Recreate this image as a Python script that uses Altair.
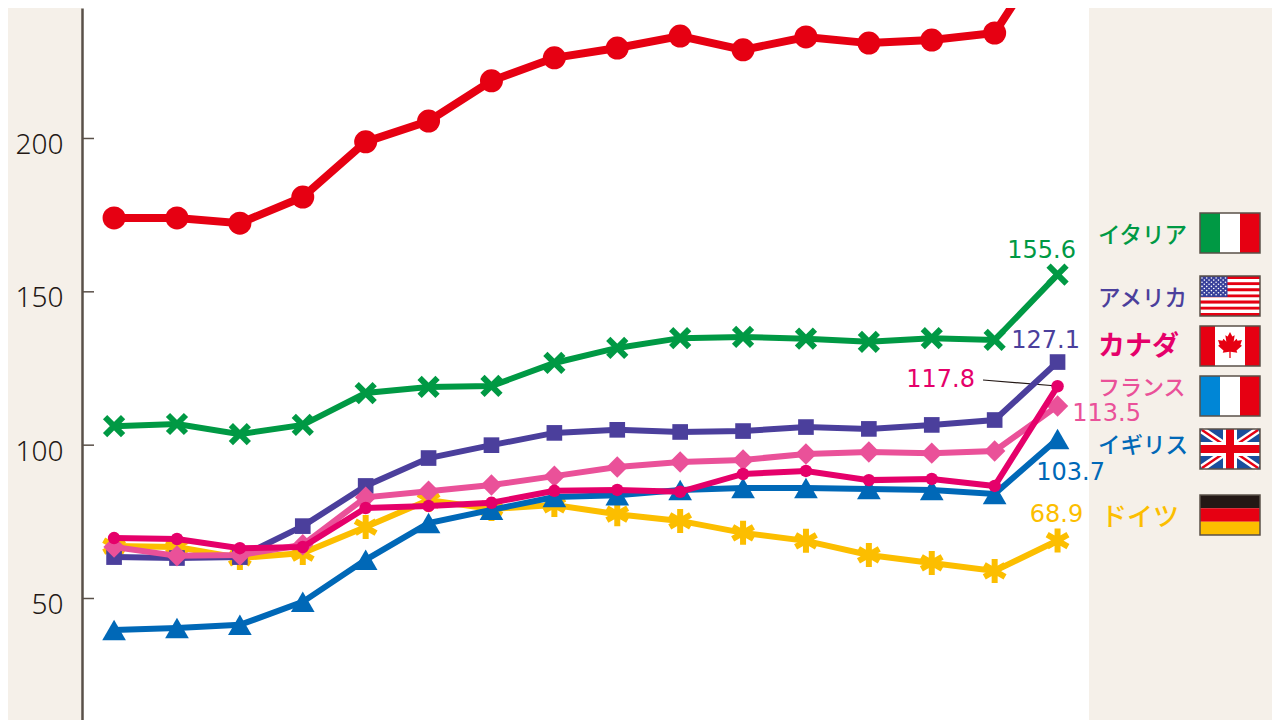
import altair as alt
import pandas as pd

years = list(range(2005, 2021))
japan = [174.1, 174.1, 172.4, 180.9, 198.9, 205.7, 218.8, 226.3, 229.5, 233.4, 228.9, 233.1, 231.1, 232.1, 234.4, 266.0]
italy = [106.2, 106.9, 103.6, 106.6, 117.0, 119.0, 119.3, 126.8, 131.7, 134.9, 135.3, 134.7, 133.7, 134.9, 134.3, 155.6]
usa = [63.5, 63.2, 63.5, 73.6, 86.7, 95.8, 100.0, 104.0, 105.0, 104.3, 104.6, 105.9, 105.3, 106.6, 108.2, 127.1]
canada = [69.7, 69.4, 66.4, 66.8, 79.5, 80.2, 81.2, 85.1, 85.4, 84.8, 90.6, 91.6, 88.6, 89.0, 86.7, 119.2]
france = [66.8, 63.9, 64.2, 67.5, 83.0, 85.0, 87.0, 89.9, 92.9, 94.5, 95.2, 97.1, 97.8, 97.4, 98.1, 112.8]
uk = [39.7, 40.4, 41.4, 48.9, 62.6, 74.6, 78.9, 83.1, 83.7, 85.4, 86.0, 86.0, 85.7, 85.4, 84.1, 102.0]
germany = [67.1, 66.8, 63.2, 64.8, 73.3, 82.1, 79.2, 80.5, 77.5, 75.3, 71.4, 68.8, 64.2, 61.6, 59.0, 68.9]
y_ticks = [50, 100, 150, 200]

RED = "#e60012"
BG = "#f5f0e9"
AXIS = "#595048"
X_PATH = "M-1,-1L1,1M-1,1L1,-1"
AST_PATH = "M0,-1L0,1M-0.866,-0.5L0.866,0.5M-0.866,0.5L0.866,-0.5"
LEAF = ("M0,-1L0.18,-0.65L0.36,-0.75L0.28,-0.25L0.5,-0.48L0.58,-0.32L0.92,-0.38L0.8,-0.02L0.92,0.05"
        "L0.5,0.42L0.56,0.6L0.05,0.52L0.05,1L-0.05,1L-0.05,0.52L-0.56,0.6L-0.5,0.42L-0.92,0.05L-0.8,-0.02"
        "L-0.92,-0.38L-0.58,-0.32L-0.5,-0.48L-0.28,-0.25L-0.36,-0.75L-0.18,-0.65Z")

xscale = alt.Scale(domain=[2004.49, 2020.5], nice=False, zero=False)
yscale = alt.Scale(domain=[10.38, 242.55], nice=False, zero=False)
YAXIS = alt.Axis(
    values=y_ticks, title=None, grid=False, ticks=False, domain=True,
    domainColor=AXIS, domainWidth=2.5, labelFont="Noto Sans", labelFontSize=28,
    labelColor="#231815", labelPadding=19, labelOffset=7, labelFontWeight=300)
X = alt.X("year:Q", scale=xscale, axis=None)
Y = alt.Y("value:Q", scale=yscale, axis=YAXIS)

# name, values, colour, line width, point style
series = [
    ("ドイツ", germany, "#fcbe00", 6, dict(shape=AST_PATH, size=576, filled=False, strokeWidth=6)),
    ("イギリス", uk, "#0068b7", 6, dict(shape="triangle-up", size=560, filled=True)),
    ("アメリカ", usa, "#4b3f9c", 6, dict(shape="square", size=245, filled=True)),
    ("フランス", france, "#ea5199", 6, dict(shape="diamond", size=460, filled=True)),
    ("カナダ", canada, "#e5006a", 6, dict(shape="circle", size=156, filled=True)),
    ("イタリア", italy, "#009944", 6, dict(shape=X_PATH, size=324, filled=False, strokeWidth=6)),
    ("日本", japan, RED, 8, dict(shape="circle", size=529, filled=True)),
]

layers = []

# inward ticks (the axis itself comes with the value encoding)
layers.append(alt.Chart(pd.DataFrame({"value": y_ticks})).mark_rule(color=AXIS, strokeWidth=1.5).encode(
    x=alt.value(0), x2=alt.value(12), y=Y))

# the thin leader for Canada's label
layers.append(alt.Chart(pd.DataFrame({"a": [0]})).mark_rule(color="#231815", strokeWidth=1.2).encode(
    x=alt.value(983 - 82), x2=alt.value(1057 - 82), y=alt.value(380 - 8), y2=alt.value(386 - 8)))

for name, vals, color, width, pt in series:
    df = pd.DataFrame({"year": years, "value": vals})
    layers.append(alt.Chart(df).mark_line(color=color, strokeWidth=width, clip=True).encode(x=X, y=Y))
    layers.append(alt.Chart(df).mark_point(color=color, opacity=1, clip=True, **pt).encode(x=X, y=Y))

# end-of-line value labels
labels = [
    ("155.6", 155.6, "#009944", -16, -24),
    ("127.1", 127.1, "#4b3f9c", -12, -21),
    ("117.8", 119.2, "#e5006a", -117, -6),
    ("113.5", 112.8, "#ea5199", 49, 8),
    ("103.7", 102.0, "#0068b7", 13, 34),
    ("68.9", 68.9, "#fcbe00", -1, -26),
]
for txt, val, col, dx, dy in labels:
    layers.append(alt.Chart(pd.DataFrame({"year": [2020], "value": [val], "t": [txt]})).mark_text(
        font="DejaVu Sans", fontSize=24, color=col, dx=dx, dy=dy, align="center", baseline="middle"
    ).encode(x=X, y=Y, text="t:N"))

# country names in the right margin: name, centre y on the page, left x, size, weight, colour
names = [
    ("イタリア", 236, 1098, 22.5, 500, "#009944"),
    ("アメリカ", 299, 1098, 22.5, 500, "#4b3f9c"),
    ("カナダ", 347, 1098, 27, 700, "#e5006a"),
    ("フランス", 388, 1098, 22, 500, "#ea5199"),
    ("イギリス", 446, 1098, 22.5, 500, "#0068b7"),
    ("ドイツ", 518, 1101, 26, 500, "#fcbe00"),
]
for txt, py, px, fs, fw, col in names:
    layers.append(alt.Chart(pd.DataFrame({"t": [txt]})).mark_text(
        font="Noto Sans CJK JP", fontSize=fs, fontWeight=fw, color=col, align="left", baseline="middle"
    ).encode(x=alt.value(px - 82), y=alt.value(py - 8), text="t:N"))

# flags
FX0, FX1 = 1200, 1260
FW = FX1 - FX0
flag_y = {"it": 213, "us": 276, "ca": 326, "fr": 376, "uk": 429, "de": 495}
FH = 40
rects_back, rects_front, frames, diag_w, diag_r = [], [], [], [], []


def R(store, x0, x1, y0, y1, fill):
    store.append({"x": x0 - 82, "x2": x1 - 82, "y": y0 - 8, "y2": y1 - 8, "f": fill})


y = flag_y["it"]
R(rects_back, FX0, FX0 + FW / 3, y, y + FH, "#009944")
R(rects_back, FX0 + FW / 3, FX0 + 2 * FW / 3, y, y + FH, "#ffffff")
R(rects_back, FX0 + 2 * FW / 3, FX1, y, y + FH, RED)

y = flag_y["fr"]
R(rects_back, FX0, FX0 + FW / 3, y, y + FH, "#0086d6")
R(rects_back, FX0 + FW / 3, FX0 + 2 * FW / 3, y, y + FH, "#ffffff")
R(rects_back, FX0 + 2 * FW / 3, FX1, y, y + FH, RED)

y = flag_y["de"]
R(rects_back, FX0, FX1, y, y + FH / 3, "#231815")
R(rects_back, FX0, FX1, y + FH / 3, y + 2 * FH / 3, RED)
R(rects_back, FX0, FX1, y + 2 * FH / 3, y + FH, "#fcbe00")

y = flag_y["ca"]
R(rects_back, FX0, FX0 + FW / 4, y, y + FH, RED)
R(rects_back, FX0 + FW / 4, FX0 + 3 * FW / 4, y, y + FH, "#ffffff")
R(rects_back, FX0 + 3 * FW / 4, FX1, y, y + FH, RED)

y = flag_y["us"]
for i in range(13):
    R(rects_back, FX0, FX1, y + i * FH / 13, y + (i + 1) * FH / 13, RED if i % 2 == 0 else "#ffffff")
R(rects_back, FX0, FX0 + 27.5, y, y + 21, "#38409a")
stars = []
for r in range(9):
    for c in range(11):
        if (r + c) % 2 == 0:
            stars.append({"x": FX0 + 2 + c * 2.35 - 82, "y": y + 2 + r * 2.1 - 8})

y = flag_y["uk"]
R(rects_back, FX0, FX1, y, y + FH, "#1a4f9c")
for (a, b, c, d) in [(FX0 + 2, y + 1, FX1 - 2, y + FH - 1), (FX0 + 2, y + FH - 1, FX1 - 2, y + 1)]:
    row = {"x": a - 82, "x2": c - 82, "y": b - 8, "y2": d - 8}
    diag_w.append(row)
    diag_r.append(row)
R(rects_front, FX0 + FW / 2 - 7, FX0 + FW / 2 + 7, y, y + FH, "#ffffff")
R(rects_front, FX0, FX1, y + FH / 2 - 7, y + FH / 2 + 7, "#ffffff")
R(rects_front, FX0 + FW / 2 - 4, FX0 + FW / 2 + 4, y, y + FH, RED)
R(rects_front, FX0, FX1, y + FH / 2 - 4, y + FH / 2 + 4, RED)

for key, y in flag_y.items():
    frames.append({"x": FX0 - 82, "x2": FX1 - 82, "y": y - 8, "y2": y + FH - 8})

PX = alt.X("x:Q", scale=None, axis=None)
PY = alt.Y("y:Q", scale=None, axis=None)


def rect_layer(rows):
    return alt.Chart(pd.DataFrame(rows)).mark_rect(opacity=1).encode(
        x=PX, x2="x2:Q", y=PY, y2="y2:Q", color=alt.Color("f:N", scale=None, legend=None))


layers.append(rect_layer(rects_back))
layers.append(alt.Chart(pd.DataFrame(diag_w)).mark_rule(color="#ffffff", strokeWidth=7).encode(x=PX, x2="x2:Q", y=PY, y2="y2:Q"))
layers.append(alt.Chart(pd.DataFrame(diag_r)).mark_rule(color=RED, strokeWidth=2.5).encode(x=PX, x2="x2:Q", y=PY, y2="y2:Q"))
layers.append(rect_layer(rects_front))
layers.append(alt.Chart(pd.DataFrame(stars)).mark_circle(color="#ffffff", size=2.6, opacity=1).encode(x=PX, y=PY))
layers.append(alt.Chart(pd.DataFrame({"x": [FX0 + FW / 2 - 82], "y": [flag_y["ca"] + 19 - 8]})).mark_point(
    shape=LEAF, size=676, filled=True, color=RED, opacity=1).encode(x=PX, y=PY))
layers.append(alt.Chart(pd.DataFrame(frames)).mark_rect(fillOpacity=0, stroke="#595048", strokeWidth=1.5).encode(
    x=PX, x2="x2:Q", y=PY, y2="y2:Q"))

chart = alt.layer(*layers).properties(
    width=1007, height=712, background=BG,
    padding={"left": 74, "top": 0, "right": 183, "bottom": 0},
    autosize=alt.AutoSizeParams(type="none"),
).configure_view(fill="#ffffff", strokeWidth=0)

chart.save("out.html", embed_options={"renderer": "svg", "actions": False})
